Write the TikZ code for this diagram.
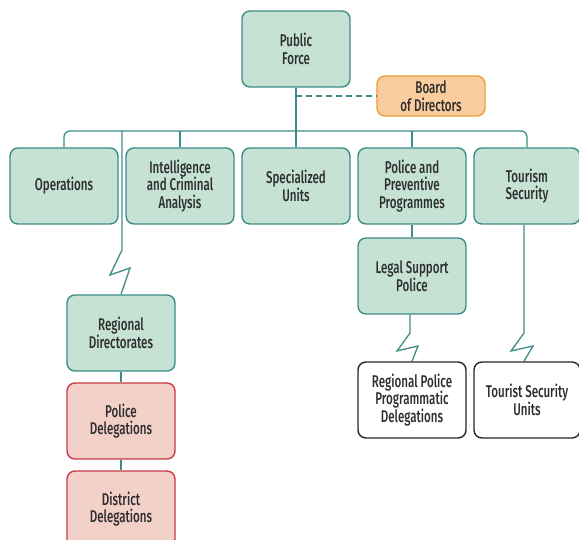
\documentclass[tikz,border=0pt]{standalone}
\usepackage{fontspec}
\setmainfont{Fira Sans Medium}[FakeStretch=0.68]
\definecolor{gfill}{HTML}{C5E2D4}
\definecolor{gline}{HTML}{3E8C88}
\definecolor{ofill}{HTML}{F9CD9E}
\definecolor{oline}{HTML}{EF9D3E}
\definecolor{rfill}{HTML}{F3D1C8}
\definecolor{rline}{HTML}{C73A48}
\definecolor{txt}{HTML}{2E2E2E}
\tikzset{
  box/.style={draw, rounded corners=8pt, line width=1.4pt, minimum width=108pt, minimum height=76pt,
    align=center, text=txt, font=\fontsize{17}{17.5}\selectfont, inner sep=2pt},
  gbox/.style={box, fill=gfill, draw=gline},
  rbox/.style={box, fill=rfill, draw=rline},
  wbox/.style={box, fill=white, draw=black!85},
  obox/.style={box, fill=ofill, draw=oline, minimum height=40pt},
  conn/.style={draw=gline, line width=1.3pt},
}
\begin{document}
\begin{tikzpicture}[x=1pt,y=-1pt]
\useasboundingbox (0,0) rectangle (579,540);
\clip (0,0) rectangle (579,540);
\node[gbox] (pf) at (296,49) {Public\\Force};
\node[obox] (bd) at (431,96) {Board\\of Directors};
\node[gbox] (ops) at (64,186) {Operations};
\node[gbox] (int) at (180,186) {Intelligence\\and Criminal\\Analysis};
\node[gbox] (spu) at (296,186) {Specialized\\Units};
\node[gbox] (ppp) at (412,186) {Police and\\Preventive\\Programmes};
\node[gbox, minimum width=106pt] (tsec) at (527,186) {Tourism\\Security};
\node[gbox] (rd) at (121,333) {Regional\\Directorates};
\node[rbox] (pd) at (121,421) {Police\\Delegations};
\node[rbox] (dd) at (121,509) {District\\Delegations};
\node[gbox] (lsp) at (412,276) {Legal Support\\Police};
\node[wbox] (rppd) at (412,400) {Regional Police\\Programmatic\\Delegations};
\node[wbox, minimum width=106pt] (tsu) at (527,400) {Tourist Security\\Units};
\coordinate (bus) at (296,131);
\coordinate (opsbr) at (122,131);
\coordinate (z1a) at (122,250);
\coordinate (z1b) at (110,275);
\coordinate (z1c) at (130,268);
\coordinate (z2a) at (410,333);
\coordinate (z2b) at (397,351);
\coordinate (z2c) at (418,346);
\coordinate (z3a) at (524,333);
\coordinate (z3b) at (511,351);
\coordinate (z3c) at (533,346);
% connectors
\draw[conn, rounded corners=6pt] (ops.north) |- (bus) -| (tsec.north);
\draw[conn] (pf.south) -- (spu.north);
\draw[conn, dashed, dash pattern=on 6pt off 4pt] (bd.west -| pf.south) -- (bd.west);
\draw[conn] (int.north |- bus) -- (int.north);
\draw[conn] (ppp.north |- bus) -- (ppp.north);
\draw[conn] (opsbr) -- (z1a) -- (z1b) -- (z1c) -- (rd.north);
\draw[conn] (rd.south) -- (pd.north);
\draw[conn] (pd.south) -- (dd.north);
\draw[conn] (ppp.south) -- (lsp.north);
\draw[conn] (lsp.south -| z2a) -- (z2a) -- (z2b) -- (z2c) -- (rppd.north);
\draw[conn] (tsec.south -| z3a) -- (z3a) -- (z3b) -- (z3c) -- (tsu.north -| z3a);
\end{tikzpicture}
\end{document}
